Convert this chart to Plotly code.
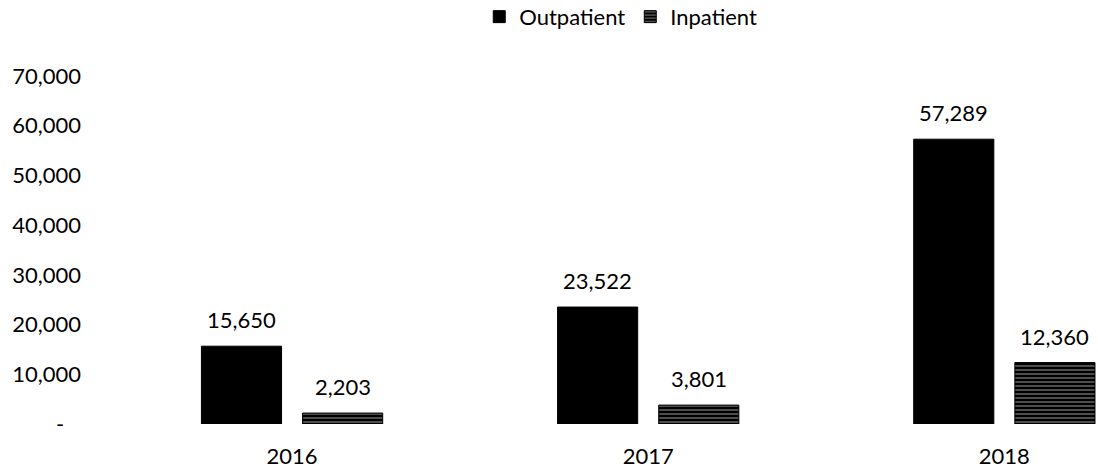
import plotly.graph_objects as go

years = ["2016", "2017", "2018"]
outpatient = [15650, 23522, 57289]
inpatient = [2203, 3801, 12360]
y_ticks = [0, 10000, 20000, 30000, 40000, 50000, 60000, 70000]
y_ticktext = ["-" + "\u00a0" * 3, "10,000", "20,000", "30,000", "40,000", "50,000", "60,000", "70,000"]

FONT = "Lato, 'Open Sans', sans-serif"
FS = 22
BW = 0.225
GAP = 0.059

fig = go.Figure()
fig.add_trace(go.Bar(
    name="Outpatient", x=years, y=outpatient,
    width=BW, offset=-(BW + GAP / 2),
    marker=dict(color="black", line=dict(color="black", width=1)),
))
fig.add_trace(go.Bar(
    name="Inpatient", x=years, y=inpatient,
    width=BW, offset=GAP / 2,
    marker=dict(color="black", line=dict(color="black", width=1),
                pattern=dict(shape="-", fgcolor="white", bgcolor="black", size=4, solidity=0.3)),
))

centers = {"Outpatient": -(BW + GAP) / 2, "Inpatient": (BW + GAP) / 2}
for name, vals in (("Outpatient", outpatient), ("Inpatient", inpatient)):
    for i, v in enumerate(vals):
        fig.add_annotation(x=i + centers[name], y=v, text=f"{v:,}", showarrow=False,
                           yanchor="bottom", yshift=11, font=dict(size=FS, color="black", family=FONT))

fig.update_layout(
    width=1098, height=469,
    margin=dict(l=114, r=0, t=76, b=45, autoexpand=False),
    paper_bgcolor="white", plot_bgcolor="white",
    barmode="overlay",
    font=dict(family=FONT, size=FS, color="black"),
    showlegend=True,
    legend=dict(orientation="h", x=0.515, xanchor="center", y=1.17, yanchor="middle",
                font=dict(size=FS, family=FONT), itemwidth=30, traceorder="normal"),
    xaxis=dict(range=[-0.5, 2.263], showgrid=False, showline=False, ticks="",
               ticklabelstandoff=17, tickfont=dict(size=FS)),
    yaxis=dict(range=[0, 70000], tickvals=y_ticks, ticktext=y_ticktext, showgrid=False,
               showline=False, zeroline=False, ticks="", ticklabelstandoff=32,
               tickfont=dict(size=FS)),
)

fig.write_html("out.html", config={"displayModeBar": False},
               post_script="document.body.style.margin='0px';document.body.style.overflow='hidden';")
